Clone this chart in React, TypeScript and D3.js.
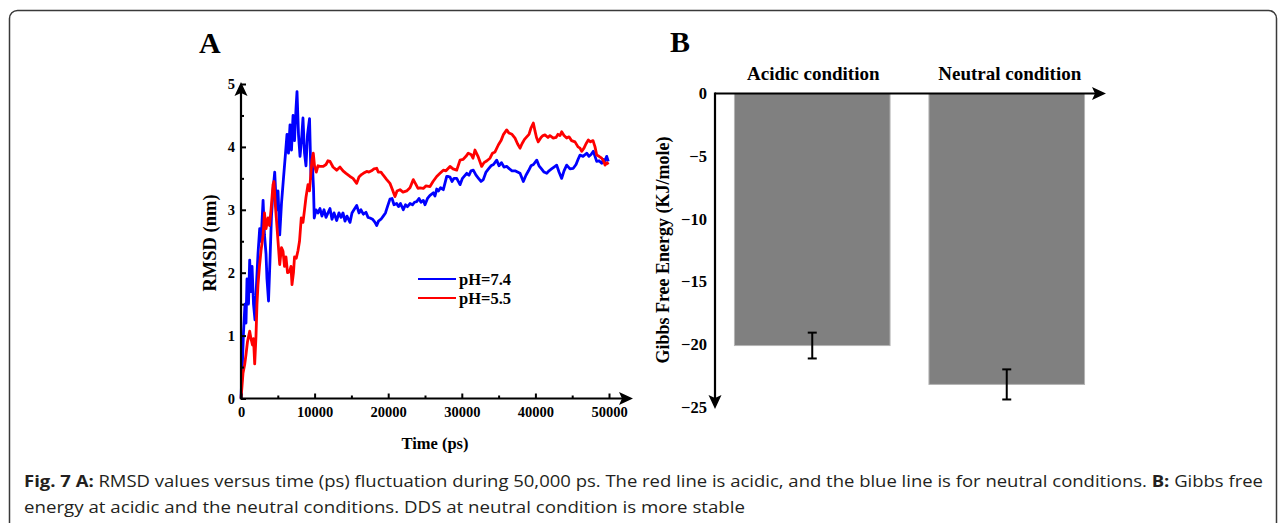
import { useEffect, useRef } from "react";
import * as d3 from "d3";

// RMSD (nm) against time (ps)
const rmsdNeutral: [number, number][] = [
  [0, 0], [200, 0.6], [340, 1.05], [540, 1.5], [680, 1.2], [815, 1.9], [1020, 1.5], [1180, 2.2],
  [1360, 1.7], [1500, 2.1], [1700, 1.5], [1900, 1.25], [2100, 1.8], [2310, 2.3], [2540, 2.7],
  [2720, 2.5], [3000, 3.15], [3190, 2.6], [3400, 2.3], [3530, 1.9], [3740, 1.55], [3940, 2.2],
  [4140, 2.9], [4350, 3.3], [4580, 3.6], [4820, 3.0], [5030, 3.3], [5260, 2.6], [5500, 3.1],
  [5770, 3.5], [6050, 3.9], [6250, 4.2], [6450, 3.9], [6660, 4.35], [6860, 3.95], [7070, 4.5],
  [7270, 4.1], [7470, 4.6], [7610, 4.88], [7810, 4.2], [8020, 3.85], [8220, 4.1], [8420, 4.46],
  [8630, 3.9], [8830, 3.7], [9040, 4.2], [9310, 4.45], [9510, 3.5], [9710, 3.7], [9850, 3.35],
  [9950, 2.87], [10190, 3.0], [10460, 2.95], [10730, 3.02], [11000, 2.9], [11280, 3.0],
  [11550, 2.88], [11820, 2.95], [12090, 3.02], [12360, 2.85], [12640, 2.95], [13000, 2.83],
  [13310, 2.95], [13590, 2.88], [13860, 2.95], [14130, 2.82], [14400, 2.9], [14810, 2.8],
  [15080, 2.95], [15350, 3.0], [15720, 3.07], [16030, 2.95], [16300, 3.0], [16620, 2.93],
  [16980, 2.96], [17260, 2.88], [17530, 2.87], [17870, 2.85], [18210, 2.8], [18440, 2.75],
  [18680, 2.82], [19020, 2.85], [19330, 2.9], [19630, 2.95], [19900, 3.05], [20240, 3.17],
  [20520, 3.18], [20790, 3.08], [21150, 3.1], [21400, 3.05], [21670, 3.1], [22050, 3.0],
  [22350, 3.08], [22620, 3.05], [22960, 3.1], [23300, 3.08], [23570, 3.12], [23870, 3.13],
  [24180, 3.18], [24460, 3.12], [24770, 3.15], [25000, 3.08], [25340, 3.18], [25680, 3.23],
  [26130, 3.27], [26360, 3.22], [26590, 3.33], [26830, 3.3], [27110, 3.35], [27490, 3.32],
  [27950, 3.53], [28170, 3.53], [28400, 3.52], [28670, 3.45], [28940, 3.5], [29310, 3.5],
  [29760, 3.4], [30090, 3.5], [30670, 3.58], [30980, 3.55], [31250, 3.62], [31560, 3.63],
  [31930, 3.55], [32270, 3.5], [32610, 3.45], [32920, 3.48], [33290, 3.6], [33630, 3.65],
  [33970, 3.7], [34310, 3.72], [34740, 3.79], [35050, 3.7], [35390, 3.75], [35730, 3.68],
  [36100, 3.69], [36480, 3.65], [36820, 3.62], [37230, 3.62], [37570, 3.6], [37910, 3.58],
  [38360, 3.45], [38720, 3.55], [39060, 3.62], [39400, 3.7], [39740, 3.72], [40180, 3.79],
  [40490, 3.7], [40830, 3.65], [41170, 3.6], [41540, 3.58], [41850, 3.62], [42190, 3.65],
  [42530, 3.68], [42890, 3.71], [43210, 3.6], [43570, 3.5], [43890, 3.62], [44250, 3.71],
  [44700, 3.65], [45150, 3.66], [45520, 3.72], [45790, 3.8], [46060, 3.87], [46470, 3.85],
  [46970, 3.9], [47280, 3.85], [47560, 3.88], [47870, 3.93], [48100, 3.85], [48330, 3.77],
  [48640, 3.78], [49010, 3.74], [49250, 3.8], [49460, 3.78], [49690, 3.85], [49900, 3.77],
];

const rmsdAcidic: [number, number][] = [
  [0, 0], [140, 0.2], [270, 0.4], [500, 0.54], [680, 0.7], [880, 0.9], [1180, 1.07], [1360, 0.95],
  [1560, 0.85], [1700, 0.95], [1860, 0.55], [2040, 1.0], [2170, 1.5], [2310, 1.81], [2510, 2.1],
  [2720, 2.35], [3000, 2.6], [3190, 2.95], [3400, 2.7], [3670, 2.87], [3870, 2.75], [4080, 3.0],
  [4350, 3.4], [4480, 3.45], [4650, 3.1], [4800, 2.87], [5030, 2.5], [5260, 2.13], [5500, 2.4],
  [5710, 2.34], [5910, 2.1], [6110, 2.25], [6320, 2.0], [6620, 2.02], [6790, 2.1], [6930, 1.81],
  [7130, 2.0], [7270, 2.25], [7510, 2.23], [7740, 2.35], [7950, 2.5], [8190, 2.87], [8420, 2.8],
  [8630, 3.0], [8830, 3.2], [9100, 3.4], [9310, 3.3], [9510, 3.6], [9650, 3.8], [9820, 3.9],
  [9990, 3.7], [10230, 3.6], [10460, 3.7], [10730, 3.69], [11180, 3.69], [11550, 3.72],
  [11820, 3.78], [12090, 3.77], [12500, 3.68], [13000, 3.63], [13450, 3.68], [13860, 3.62],
  [14270, 3.58], [14810, 3.53], [15220, 3.5], [15720, 3.42], [16030, 3.52], [16370, 3.56],
  [16620, 3.58], [17080, 3.61], [17390, 3.6], [17730, 3.62], [18070, 3.65], [18440, 3.66],
  [18650, 3.6], [19020, 3.6], [19330, 3.55], [19800, 3.48], [20240, 3.42], [20580, 3.32],
  [20920, 3.21], [21200, 3.3], [21600, 3.32], [22010, 3.28], [22510, 3.3], [22960, 3.35],
  [23410, 3.48], [23780, 3.4], [24050, 3.34], [24320, 3.35], [24770, 3.34], [25140, 3.38],
  [25680, 3.37], [26090, 3.45], [26590, 3.53], [27040, 3.58], [27490, 3.63], [27850, 3.62],
  [28170, 3.66], [28400, 3.69], [28810, 3.65], [29310, 3.63], [29760, 3.79], [30160, 3.8],
  [30570, 3.85], [30880, 3.9], [31250, 3.88], [31520, 3.82], [31790, 3.95], [32200, 3.85],
  [32700, 3.69], [33020, 3.75], [33420, 3.78], [33830, 3.82], [34170, 3.9], [34510, 3.92],
  [34960, 4.03], [35330, 4.1], [35670, 4.2], [36100, 4.27], [36410, 4.22], [36820, 4.2],
  [37230, 4.14], [37570, 4.05], [37910, 3.98], [38180, 4.05], [38520, 4.12], [38820, 4.16],
  [39130, 4.2], [39400, 4.3], [39720, 4.38], [39950, 4.25], [40150, 4.15], [40390, 4.08],
  [40760, 4.15], [41030, 4.18], [41300, 4.19], [41710, 4.15], [41980, 4.18], [42430, 4.14],
  [42800, 4.15], [43070, 4.2], [43340, 4.18], [43570, 4.24], [43890, 4.18], [44250, 4.14],
  [44570, 4.16], [44910, 4.1], [45380, 4.08], [45790, 4.0], [46060, 3.98], [46290, 3.93],
  [46600, 3.98], [46880, 4.05], [47190, 4.11], [47490, 4.08], [47830, 4.1], [48100, 4.0],
  [48330, 3.87], [48640, 3.85], [49010, 3.82], [49250, 3.78], [49460, 3.71], [49730, 3.75],
  [49900, 3.72],
];

const seriesNames = ["pH=7.4", "pH=5.5"];
const seriesColors = ["#0000ff", "#ff0000"];

const timeTicks = [0, 10000, 20000, 30000, 40000, 50000];
const timeMinorTicks = [5000, 15000, 25000, 35000, 45000];
const rmsdTicks = [0, 1, 2, 3, 4, 5];
const rmsdMinorTicks = [0.5, 1.5, 2.5, 3.5, 4.5];

// Gibbs free energy panel
const conditions = ["Acidic condition", "Neutral condition"];
const gibbsEnergy = [-20.1, -23.2];
const gibbsError = [1.03, 1.2];
const gibbsTicks = [0, -5, -10, -15, -20, -25];

const SERIF = "'Liberation Serif', 'Times New Roman', serif";
const SANS = "'Open Sans', 'Noto Sans', sans-serif";

function App() {
  const ref = useRef<SVGSVGElement>(null);

  useEffect(() => {
    const svg = d3.select(ref.current);
    svg.selectAll("*").remove();

    // cadre arrondi
    svg
      .append("rect")
      .attr("x", 9.5)
      .attr("y", 10.5)
      .attr("width", 1267)
      .attr("height", 540)
      .attr("rx", 8)
      .attr("fill", "none")
      .attr("stroke", "#3a3a3a")
      .attr("stroke-width", 1.5);

    // ---------- Panel A ----------
    const x = d3.scaleLinear([0, 50000], [241, 609]);
    const y = d3.scaleLinear([0, 5], [398.5, 84]);

    svg
      .append("text")
      .attr("x", 199)
      .attr("y", 53)
      .attr("font-family", SERIF)
      .attr("font-weight", "bold")
      .attr("font-size", 30)
      .text("A");

    const lineGen = d3
      .line<[number, number]>()
      .x((d) => x(d[0]))
      .y((d) => y(d[1]));

    [rmsdNeutral, rmsdAcidic].forEach((serie, i) => {
      svg
        .append("path")
        .datum(serie)
        .attr("d", lineGen)
        .attr("fill", "none")
        .attr("stroke", seriesColors[i])
        .attr("stroke-width", 2.8)
        .attr("stroke-linejoin", "round");
    });

    // axes
    const xAxis = svg
      .append("g")
      .attr("transform", `translate(0,${y(0)})`)
      .call(
        d3.axisBottom(x).tickValues(timeTicks).tickSizeInner(-5).tickSizeOuter(0).tickPadding(8).tickFormat(d3.format("d"))
      );
    svg
      .append("g")
      .attr("transform", `translate(0,${y(0)})`)
      .call(d3.axisBottom(x).tickValues(timeMinorTicks).tickSizeInner(-3).tickSizeOuter(0).tickFormat(() => ""));

    const yAxis = svg
      .append("g")
      .attr("transform", `translate(${x(0)},0)`)
      .call(d3.axisLeft(y).tickValues(rmsdTicks).tickSizeInner(-5).tickSizeOuter(0).tickPadding(6).tickFormat(d3.format("d")));
    svg
      .append("g")
      .attr("transform", `translate(${x(0)},0)`)
      .call(d3.axisLeft(y).tickValues(rmsdMinorTicks).tickSizeInner(-3).tickSizeOuter(0).tickFormat(() => ""));

    svg.selectAll(".domain").remove();
    svg.selectAll(".tick line").attr("stroke", "#000").attr("stroke-width", 2);
    [xAxis, yAxis].forEach((g) =>
      g
        .selectAll("text")
        .attr("font-family", SERIF)
        .attr("font-weight", "bold")
        .attr("font-size", 14.5)
        .attr("fill", "#000")
    );

    // lignes d'axe avec flèches
    svg
      .append("line")
      .attr("x1", x(0))
      .attr("x2", 624)
      .attr("y1", y(0))
      .attr("y2", y(0))
      .attr("stroke", "#000")
      .attr("stroke-width", 2.2);
    svg
      .append("path")
      .attr("d", `M633,${y(0)} L619,${y(0) - 6.5} L622,${y(0)} L619,${y(0) + 6.5} Z`)
      .attr("fill", "#000");
    svg
      .append("line")
      .attr("x1", x(0))
      .attr("x2", x(0))
      .attr("y1", y(0) + 1)
      .attr("y2", 92)
      .attr("stroke", "#000")
      .attr("stroke-width", 2.2);
    svg
      .append("path")
      .attr("d", `M${x(0)},82 L${x(0) - 6.5},96 L${x(0)},93 L${x(0) + 6.5},96 Z`)
      .attr("fill", "#000");

    svg
      .append("text")
      .attr("x", 435)
      .attr("y", 449)
      .attr("text-anchor", "middle")
      .attr("font-family", SERIF)
      .attr("font-weight", "bold")
      .attr("font-size", 16.5)
      .text("Time (ps)");

    svg
      .append("text")
      .attr("transform", "translate(216,243) rotate(-90)")
      .attr("text-anchor", "middle")
      .attr("font-family", SERIF)
      .attr("font-weight", "bold")
      .attr("font-size", 18.5)
      .text("RMSD (nm)");

    // légende
    seriesNames.forEach((name, i) => {
      const ly = 279 + i * 19;
      svg
        .append("line")
        .attr("x1", 418)
        .attr("x2", 456)
        .attr("y1", ly)
        .attr("y2", ly)
        .attr("stroke", seriesColors[i])
        .attr("stroke-width", 2.2);
      svg
        .append("text")
        .attr("x", 459)
        .attr("y", ly + 5.5)
        .attr("font-family", SERIF)
        .attr("font-weight", "bold")
        .attr("font-size", 16.5)
        .text(name);
    });

    // ---------- Panel B ----------
    svg
      .append("text")
      .attr("x", 670)
      .attr("y", 52)
      .attr("font-family", SERIF)
      .attr("font-weight", "bold")
      .attr("font-size", 30)
      .text("B");

    const xb = d3.scaleBand(conditions, [715, 1104]).paddingInner(0.2).paddingOuter(0.1);
    const yb = d3.scaleLinear([0, -25], [93.5, 407]);

    conditions.forEach((c, i) => {
      svg
        .append("rect")
        .attr("x", xb(c)!)
        .attr("y", yb(0))
        .attr("width", xb.bandwidth())
        .attr("height", yb(gibbsEnergy[i]) - yb(0))
        .attr("fill", "#808080")
        .attr("stroke", "#b4b4b4")
        .attr("stroke-width", 1);

      const cx = xb(c)! + xb.bandwidth() / 2;
      const top = yb(gibbsEnergy[i] + gibbsError[i]);
      const bottom = yb(gibbsEnergy[i] - gibbsError[i]);
      svg
        .append("line")
        .attr("x1", cx)
        .attr("x2", cx)
        .attr("y1", top)
        .attr("y2", bottom)
        .attr("stroke", "#000")
        .attr("stroke-width", 2);
      [top, bottom].forEach((yy) =>
        svg
          .append("line")
          .attr("x1", cx - 4.5)
          .attr("x2", cx + 4.5)
          .attr("y1", yy)
          .attr("y2", yy)
          .attr("stroke", "#000")
          .attr("stroke-width", 2)
      );

      svg
        .append("text")
        .attr("x", cx + (i === 1 ? 3 : 1))
        .attr("y", 80)
        .attr("text-anchor", "middle")
        .attr("font-family", SERIF)
        .attr("font-weight", "bold")
        .attr("font-size", 19)
        .text(c);
    });

    const ybAxis = svg
      .append("g")
      .attr("transform", "translate(715,0)")
      .call(d3.axisLeft(yb).tickValues(gibbsTicks).tickSize(0).tickPadding(8).tickFormat(d3.format("d")));
    ybAxis.select(".domain").remove();
    ybAxis
      .selectAll("text")
      .attr("font-family", SERIF)
      .attr("font-weight", "bold")
      .attr("font-size", 16.5)
      .attr("fill", "#000");

    svg
      .append("line")
      .attr("x1", 715)
      .attr("x2", 1096)
      .attr("y1", yb(0))
      .attr("y2", yb(0))
      .attr("stroke", "#000")
      .attr("stroke-width", 2.2);
    svg
      .append("path")
      .attr("d", `M1106,${yb(0)} L1092,${yb(0) - 6.5} L1095,${yb(0)} L1092,${yb(0) + 6.5} Z`)
      .attr("fill", "#000");
    svg
      .append("line")
      .attr("x1", 715)
      .attr("x2", 715)
      .attr("y1", yb(0) - 1)
      .attr("y2", 399)
      .attr("stroke", "#000")
      .attr("stroke-width", 2.2);
    svg
      .append("path")
      .attr("d", "M715,409 L708.5,395 L715,398 L721.5,395 Z")
      .attr("fill", "#000");

    svg
      .append("text")
      .attr("transform", "translate(669,250) rotate(-90)")
      .attr("text-anchor", "middle")
      .attr("font-family", SERIF)
      .attr("font-weight", "bold")
      .attr("font-size", 18)
      .text("Gibbs Free Energy (KJ/mole)");

    // ---------- Légende de la figure ----------
    const caption1 = svg
      .append("text")
      .attr("x", 24)
      .attr("y", 487)
      .attr("font-family", SANS)
      .attr("font-size", 16)
      .attr("fill", "#231f20")
      .attr("textLength", 1239)
      .attr("lengthAdjust", "spacingAndGlyphs");
    caption1.append("tspan").attr("font-weight", "bold").text("Fig. 7 A:");
    caption1
      .append("tspan")
      .text(
        " RMSD values versus time (ps) fluctuation during 50,000 ps. The red line is acidic, and the blue line is for neutral conditions. "
      );
    caption1.append("tspan").attr("font-weight", "bold").text("B:");
    caption1.append("tspan").text(" Gibbs free");

    svg
      .append("text")
      .attr("x", 24)
      .attr("y", 513)
      .attr("font-family", SANS)
      .attr("font-size", 16)
      .attr("fill", "#231f20")
      .attr("textLength", 721)
      .attr("lengthAdjust", "spacingAndGlyphs")
      .text("energy at acidic and the neutral conditions. DDS at neutral condition is more stable");

    return () => {
      d3.select(ref.current).selectAll("*").remove();
    };
  }, []);

  return (
    <div style={{ position: "absolute", left: 0, top: 0 }}>
      <svg ref={ref} width={1282} height={523} style={{ display: "block", background: "#fff" }} />
    </div>
  );
}

export default App;
